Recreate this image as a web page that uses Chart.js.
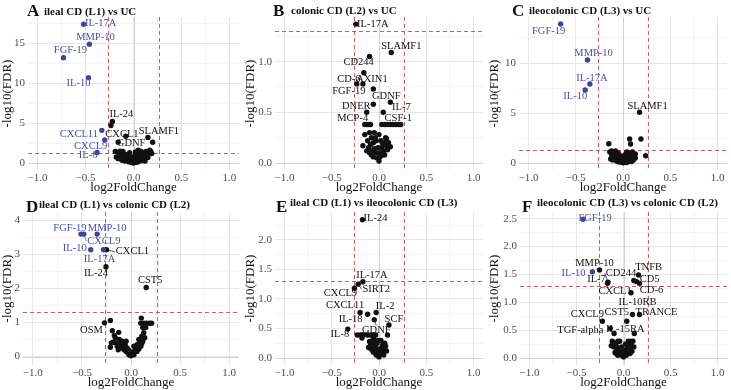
<!DOCTYPE html>
<html>
<head>
<meta charset="utf-8">
<script src="https://cdn.jsdelivr.net/npm/chart.js@4.4.0/dist/chart.umd.min.js"></script>
<style>
  body { margin: 0; background: #fff; width: 731px; height: 390px; position: relative; overflow: hidden;
         font-family: "Liberation Serif", "DejaVu Serif", serif; color: #111; }
  .panel { position: absolute; height: 195px; }
  .tag { position: absolute; font-weight: bold; font-size: 17px; line-height: 17px; }
  .ttl { position: absolute; font-weight: bold; font-size: 11px; line-height: 11px; white-space: nowrap; }
</style>
</head>
<body>
<div class="panel" style="left:0;top:0;width:243px"><canvas id="chartA"></canvas></div>
<div class="panel" style="left:243px;top:0;width:244px"><canvas id="chartB"></canvas></div>
<div class="panel" style="left:487px;top:0;width:244px"><canvas id="chartC"></canvas></div>
<div class="panel" style="left:0;top:195px;width:243px"><canvas id="chartD"></canvas></div>
<div class="panel" style="left:243px;top:195px;width:244px"><canvas id="chartE"></canvas></div>
<div class="panel" style="left:487px;top:195px;width:244px"><canvas id="chartF"></canvas></div>

<div class="tag" style="left:27px;top:2px">A</div><div class="ttl" style="left:44px;top:6px">ileal CD (L1) vs UC</div>
<div class="tag" style="left:273px;top:2px">B</div><div class="ttl" style="left:291px;top:5px">colonic CD (L2) vs UC</div>
<div class="tag" style="left:512px;top:2px">C</div><div class="ttl" style="left:529px;top:5px">ileocolonic CD (L3) vs UC</div>
<div class="tag" style="left:26px;top:198px">D</div><div class="ttl" style="left:39px;top:199px">ileal CD (L1) vs colonic CD (L2)</div>
<div class="tag" style="left:276px;top:198px">E</div><div class="ttl" style="left:290px;top:197px">ileal CD (L1) vs ileocolonic CD (L3)</div>
<div class="tag" style="left:522px;top:198px">F</div><div class="ttl" style="left:537px;top:197px">ileocolonic CD (L3) vs colonic CD (L2)</div>

<script>
// thresholds: |log2FC| > log2(1.2), FDR < 0.05
const fcCut = 0.263;
const fdrCut = 1.301;

const xTicks = [-1, -0.5, 0, 0.5, 1];
const xTickLabels = ['−1.0', '−0.5', '0.0', '0.5', '1.0'];
const xMinor = [-0.75, -0.25, 0.25, 0.75];

// A: ileal CD (L1) vs UC
const aGenes = ['IL-17A', 'MMP-10', 'FGF-19', 'IL-10', 'IL-24', 'CXCL1', 'CXCL11', 'CXCL9', 'IL-8', 'SLAMF1', 'GDNF'];
const aFC  = [-0.52, -0.46, -0.73, -0.47, -0.22, -0.235, -0.33, -0.30, -0.38, 0.15, -0.16];
const aFDR = [17.4, 14.9, 13.2, 10.7, 5.2, 4.7, 4.1, 2.9, 1.33, 3.2, 2.6];
const aOther = [[-0.08,3.35],[0.20,2.6],[-0.19,1.46],[-0.18,0.75],[-0.15,1.2],[-0.13,0.9],[-0.11,1.46],[-0.1,0.6],
  [-0.09,1.1],[-0.08,0.45],[-0.07,0.8],[-0.06,0.3],[-0.05,0.55],[-0.04,1.3],[-0.04,0.2],[-0.03,0.4],[-0.02,0.1],
  [-0.02,0.25],[-0.01,0.05],[0,0.02],[0,0.12],[0.01,0.06],[0.02,0.18],[0.03,0.1],[0.03,0.35],[0.04,0.25],[0.05,1.6],
  [0.05,0.5],[0.06,0.3],[0.07,0.84],[0.07,0.6],[0.08,1.46],[0.08,0.4],[0.09,0.7],[0.1,1.0],[0.1,0.5],[0.11,1.2],
  [0.12,0.8],[0.13,1.46],[0.14,0.9],[0.15,1.17],[0.16,1.3],[0.17,1.6],[0.18,1.46],[0.19,1.2],[-0.12,0.35],
  [-0.16,0.55],[0.12,0.25],[-0.14,1.5],[0.02,1.4],[-0.02,0.7],[0.01,0.9],[0.06,1.1],[-0.06,1.0],[0.04,0.75],
  [-0.09,0.25],[0.09,0.3],[-0.12,0.7],[0.11,0.6],[0.15,0.7],[-0.05,0.15],[0.05,0.15]];
const aYTicks = [0, 5, 10, 15];
const aYLabels = ['0', '5', '10', '15'];
const aYMinor = [2.5, 7.5, 12.5, 17.5];

// B: colonic CD (L2) vs UC
const bGenes = ['IL-17A', 'SLAMF1', 'CD244', 'CD-6', 'AXIN1', 'FGF-19', 'GDNF', 'DNER', 'IL-7', 'MCP-4', 'CSF-1'];
const bFC  = [-0.245, 0.13, -0.10, -0.16, -0.17, -0.235, -0.06, -0.06, 0.12, -0.13, 0.045];
const bFDR = [1.37, 1.09, 1.05, 0.89, 0.78, 0.78, 0.73, 0.58, 0.60, 0.50, 0.50];
const bOther = [[-0.15,0.38],[-0.13,0.38],[-0.11,0.38],[-0.09,0.38],[0.03,0.38],[0.06,0.38],[0.09,0.38],[0.12,0.38],
  [0.15,0.38],[0.18,0.38],[0.21,0.38],[0.23,0.38],[-0.15,0.28],[0.07,0.25],[-0.17,0.17],[0.12,0.16],[-0.1,0.3],
  [-0.08,0.25],[-0.06,0.2],[-0.05,0.14],[-0.03,0.1],[-0.02,0.05],[0,0.02],[0.01,0.06],[0.02,0.1],[0.03,0.15],
  [0.04,0.19],[0.05,0.12],[0.06,0.2],[0.08,0.17],[0.09,0.13],[-0.09,0.18],[-0.07,0.12],[-0.12,0.22],[-0.11,0.15],
  [-0.04,0.25],[0.1,0.2],[-0.13,0.12],[-0.08,0.08],[-0.05,0.3],[0,0.1],[0.02,0.22],[0.04,0.08],[-0.01,0.15],
  [-0.06,0.06],[0.06,0.08],[-0.1,0.1],[0.08,0.24],[0,0.28],[-0.03,0.22]];
const bYTicks = [0, 0.5, 1];
const bYLabels = ['0.0', '0.5', '1.0'];
const bYMinor = [0.25, 0.75, 1.25];

// C: ileocolonic CD (L3) vs UC
const cGenes = ['FGF-19', 'MMP-10', 'IL-17A', 'IL-10', 'SLAMF1'];
const cFC  = [-0.66, -0.375, -0.35, -0.40, 0.175];
const cFDR = [13.9, 10.3, 7.9, 7.3, 5.07];
const cOther = [[-0.15,1.93],[0.07,2.4],[0.19,2.4],[0.08,1.9],[0.24,0.73],[-0.14,1.1],[-0.12,0.8],[-0.1,0.5],
  [-0.08,1.2],[-0.07,0.9],[-0.05,0.3],[-0.04,0.6],[-0.03,0.2],[-0.02,0.4],[-0.01,0.1],[0,0.03],[0.01,0.15],
  [0.02,0.3],[0.03,0.5],[0.04,0.2],[0.05,0.7],[0.06,0.4],[0.07,1.0],[0.08,0.6],[0.09,0.8],[0.1,0.5],[0.11,0.9],
  [0.12,0.7],[-0.13,0.4],[-0.11,0.3],[0.13,0.5],[-0.06,0.15],[0.05,0.1],[-0.09,0.7],[0,0.5],[0.02,0.8],
  [-0.05,1.0],[0.04,1.1],[0.1,1.1],[-0.12,1.2],[0.13,0.9],[-0.02,0.7],[0.06,0.2],[-0.08,0.3],[0.08,0.3],
  [-0.04,0.1],[0.03,0.05],[0.11,0.3],[0.09,0.15]];
const cYTicks = [0, 5, 10];
const cYLabels = ['0', '5', '10'];
const cYMinor = [2.5, 7.5, 12.5];

// D: ileal CD (L1) vs colonic CD (L2)
const dGenes = ['FGF-19', 'CXCL9', 'MMP-10', 'IL-10', 'IL-17A', 'CXCL1', 'IL-24', 'CST5', 'OSM'];
const dFC  = [-0.51, -0.48, -0.345, -0.41, -0.28, -0.25, -0.255, 0.155, -0.27];
const dFDR = [3.6, 3.6, 3.6, 3.14, 3.14, 3.14, 2.64, 2.03, 0.99];
const dOther = [[-0.21,1.06],[-0.19,0.76],[-0.125,0.71],[-0.18,0.42],[-0.21,0.27],[0.105,1.13],[0.1,0.98],
  [0.13,0.98],[0.16,0.98],[0.19,0.98],[0.21,0.98],[0.12,0.85],[0.13,0.7],[0.14,0.55],[0.12,0.45],[0.11,0.38],
  [0.1,0.3],[-0.16,0.55],[-0.15,0.4],[-0.14,0.3],[-0.12,0.5],[-0.11,0.35],[-0.1,0.25],[-0.09,0.45],[-0.08,0.3],
  [-0.07,0.2],[-0.06,0.35],[-0.05,0.15],[-0.04,0.25],[-0.03,0.1],[-0.02,0.05],[0,0.02],[0.01,0.08],[0.02,0.12],
  [0.03,0.05],[0.04,0.18],[0.05,0.25],[0.06,0.15],[0.07,0.3],[0.08,0.22],[0.09,0.4],[-0.17,0.62],[0.08,0.5],
  [-0.13,0.2],[-0.02,0.18],[0,0.1],[0.03,0.3],[0.06,0.35],[-0.05,0.45],[0.11,0.6],[-0.2,0.4],[0.15,0.85]];
const dYTicks = [0, 1, 2, 3, 4];
const dYLabels = ['0', '1', '2', '3', '4'];
const dYMinor = [0.5, 1.5, 2.5, 3.5];

// E: ileal CD (L1) vs ileocolonic CD (L3)
const eGenes = ['IL-24', 'IL-17A', 'SIRT2', 'CXCL9', 'CXCL11', 'IL-2', 'IL-18', 'GDNF', 'SCF', 'IL-8'];
const eFC  = [-0.175, -0.17, -0.22, -0.26, -0.20, -0.03, -0.12, -0.05, 0.105, -0.33];
const eFDR = [2.34, 1.29, 1.25, 1.18, 0.77, 0.77, 0.74, 0.65, 0.56, 0.49];
const eOther = [[0.09,0.39],[-0.23,0.39],[-0.2,0.39],[-0.18,0.39],[-0.16,0.39],[-0.12,0.39],[-0.09,0.39],
  [-0.06,0.39],[-0.035,0.39],[-0.18,0.34],[-0.06,0.33],[-0.05,0.28],[-0.04,0.22],[-0.03,0.16],[-0.02,0.1],
  [-0.01,0.05],[0,0.02],[0.01,0.07],[0.02,0.12],[0.03,0.18],[0.04,0.22],[0.05,0.15],[0.06,0.25],[0.07,0.2],
  [-0.07,0.2],[-0.08,0.15],[-0.1,0.28],[-0.09,0.24],[0.03,0.08],[-0.04,0.12],[-0.02,0.25],[0,0.15],[0.02,0.3],
  [-0.06,0.1],[0.05,0.05],[-0.11,0.18],[0.08,0.12],[-0.01,0.3],[0.04,0.1],[-0.03,0.05]];
const eYTicks = [0, 0.5, 1, 1.5, 2];
const eYLabels = ['0.0', '0.5', '1.0', '1.5', '2.0'];
const eYMinor = [0.25, 0.75, 1.25, 1.75, 2.25];

// F: ileocolonic CD (L3) vs colonic CD (L2)
const fGenes = ['FGF-19', 'IL-10', 'MMP-10', 'IL-7', 'CD244', 'TNFB', 'CD5', 'CD-6', 'CXCL1', 'IL-10RB',
  'CST5', 'TRANCE', 'CXCL9', 'TGF-alpha', 'IL-15RA'];
const fFC  = [-0.43, -0.33, -0.255, -0.17, -0.165, 0.16, 0.14, 0.17, 0.08, 0.095, 0.035, 0.17, -0.225, -0.14, 0.115];
const fFDR = [2.49, 1.55, 1.58, 1.34, 1.36, 1.49, 1.37, 1.34, 1.17, 0.78, 0.66, 0.78, 0.66, 0.53, 0.44];
const fOther = [[0.11,1.39],[-0.1,0.44],[-0.12,0.3],[-0.11,0.28],[-0.08,0.25],[-0.1,0.2],[-0.06,0.3],[-0.05,0.18],
  [-0.04,0.12],[-0.03,0.08],[-0.02,0.05],[0,0.02],[0.01,0.06],[0.02,0.1],[0.03,0.15],[0.04,0.2],[0.05,0.12],
  [0.06,0.25],[0.07,0.18],[0.08,0.22],[0.09,0.12],[0.1,0.3],[-0.07,0.15],[-0.09,0.1],[0.05,0.3],[0.03,0.05],
  [-0.02,0.2],[0,0.12],[-0.06,0.05],[0.07,0.08],[-0.13,0.22],[0.02,0.25],[-0.04,0.3],[0.08,0.3],[-0.08,0.08],
  [0.11,0.2]];
const fYTicks = [0, 0.5, 1, 1.5, 2, 2.5];
const fYLabels = ['0.0', '0.5', '1.0', '1.5', '2.0', '2.5'];
const fYMinor = [0.25, 0.75, 1.25, 1.75, 2.25];

// label placement (pixel offsets from the point, ggrepel-like); third item = draw segment
const nudgeA = {'IL-17A':[17,-1], 'MMP-10':[6,-7], 'FGF-19':[7,-7], 'IL-10':[-10,6], 'IL-24':[9,-7],
  'CXCL1':[11,9], 'CXCL11':[-23,4], 'CXCL9':[-14,6], 'IL-8':[-9,3], 'SLAMF1':[11,-6], 'GDNF':[13,1]};
const nudgeB = {'IL-17A':[17,0], 'SLAMF1':[10,-6], 'CD244':[-11,6], 'CD-6':[-15,6], 'AXIN1':[9,-5],
  'FGF-19':[-8,7], 'GDNF':[13,7], 'DNER':[-17,2], 'IL-7':[11,5], 'MCP-4':[-14,6], 'CSF-1':[15,6]};
const nudgeC = {'FGF-19':[-12,7], 'MMP-10':[6,-7], 'IL-17A':[2,-6], 'IL-10':[-10,6], 'SLAMF1':[8,-6]};
const nudgeD = {'FGF-19':[-11,-6], 'CXCL9':[20,7,true], 'MMP-10':[10,-6], 'IL-10':[-16,-1], 'IL-17A':[-4,10],
  'CXCL1':[26,2,true], 'IL-24':[-10,7], 'CST5':[4,-7], 'OSM':[-13,7]};
const nudgeE = {'IL-24':[13,-1], 'IL-17A':[9,-7], 'SIRT2':[18,5,true], 'CXCL9':[-14,5], 'CXCL11':[-15,-7],
  'IL-2':[9,-6], 'IL-18':[-17,5], 'GDNF':[2,11,true], 'SCF':[5,-6], 'IL-8':[-8,5]};
const nudgeF = {'FGF-19':[12,-1], 'IL-10':[-19,2], 'MMP-10':[-5,-7], 'IL-7':[-11,-4], 'CD244':[13,-9,true],
  'TNFB':[10,-8], 'CD5':[13,-2], 'CD-6':[12,7], 'CXCL1':[-16,-2], 'IL-10RB':[5,-12], 'CST5':[-10,-9],
  'TRANCE':[17,-2], 'CXCL9':[-15,-7], 'TGF-alpha':[-30,2], 'IL-15RA':[-9,-4]};

const serif = '"Liberation Serif", "DejaVu Serif", serif';
const blue = '#3e4598';
const labelBlue = '#4b509b';
const black = '#111111';

function isSig(fc, fdr) {
  return fdr > fdrCut && Math.abs(fc) > fcCut;
}

function tickText(ticks, labels, v) {
  const i = ticks.indexOf(v);
  return i < 0 ? '' : labels[i];
}

const refLines = {
  id: 'refLines',
  beforeDatasetsDraw(chart) {
    const {ctx, chartArea: a, scales: {x, y}} = chart;
    const seg = (x1, y1, x2, y2) => { ctx.beginPath(); ctx.moveTo(x1, y1); ctx.lineTo(x2, y2); ctx.stroke(); };
    ctx.save();
    ctx.lineWidth = 1;
    ctx.strokeStyle = '#d2d2d2';
    const x0 = Math.round(x.getPixelForValue(0)) + 0.5;
    const y0 = Math.round(y.getPixelForValue(0)) + 0.5;
    seg(x0, a.top, x0, a.bottom);
    seg(a.left, y0, a.right, y0);
    ctx.strokeStyle = '#c0606b';
    ctx.setLineDash([4, 3]);
    [-fcCut, fcCut].forEach(v => {
      const p = Math.round(x.getPixelForValue(v)) + 0.5;
      seg(p, a.top, p, a.bottom);
    });
    const py = Math.round(y.getPixelForValue(fdrCut)) + 0.5;
    seg(a.left, py, a.right, py);
    ctx.restore();
  }
};

const geneLabels = {
  id: 'geneLabels',
  afterDatasetsDraw(chart, args, opts) {
    const {ctx, scales: {x, y}} = chart;
    ctx.save();
    ctx.font = '10.5px ' + serif;
    ctx.textAlign = 'center';
    ctx.textBaseline = 'middle';
    ctx.lineWidth = 0.7;
    opts.genes.forEach((g, i) => {
      const px = x.getPixelForValue(opts.fc[i]);
      const py = y.getPixelForValue(opts.fdr[i]);
      const nd = opts.nudge[g] || [0, -8];
      const lx = px + nd[0], ly = py + nd[1];
      const col = isSig(opts.fc[i], opts.fdr[i]) ? labelBlue : black;
      ctx.fillStyle = col;
      ctx.strokeStyle = col;
      if (nd[2]) {
        const w = ctx.measureText(g).width;
        let ex = lx, ey = ly;
        if (Math.abs(nd[1]) > Math.abs(nd[0])) ey = ly + (nd[1] > 0 ? -5 : 5);
        else ex = lx + (nd[0] > 0 ? -w / 2 - 1 : w / 2 + 1);
        ctx.beginPath(); ctx.moveTo(px, py); ctx.lineTo(ex, ey); ctx.stroke();
      }
      ctx.fillText(g, lx, ly);
    });
    ctx.restore();
  }
};

function makePanel(id, cfg) {
  const pts = cfg.genes.map((g, i) => [cfg.fc[i], cfg.fdr[i]]).concat(cfg.other);
  const sig = pts.filter(p => isSig(p[0], p[1])).map(p => ({x: p[0], y: p[1]}));
  const ns = pts.filter(p => !isSig(p[0], p[1])).map(p => ({x: p[0], y: p[1]}));
  const xGrid = xTicks.concat(xMinor).sort((a, b) => a - b);
  const yGrid = cfg.yTicks.concat(cfg.yMinor).sort((a, b) => a - b);
  const gridColor = minor => c => minor.includes(c.tick.value) ? '#f3f3f3' : '#e6e6e6';

  new Chart(document.getElementById(id), {
    type: 'scatter',
    plugins: [refLines, geneLabels],
    data: {
      datasets: [
        {data: sig, backgroundColor: blue, borderWidth: 0, pointRadius: 2.7},
        {data: ns, backgroundColor: black, borderWidth: 0, pointRadius: 2.7}
      ]
    },
    options: {
      responsive: true,
      maintainAspectRatio: false,
      animation: false,
      layout: {padding: {top: 17, right: cfg.padR, left: 0, bottom: 0}},
      plugins: {
        legend: {display: false},
        tooltip: {enabled: false},
        geneLabels: {genes: cfg.genes, fc: cfg.fc, fdr: cfg.fdr, nudge: cfg.nudge}
      },
      scales: {
        x: {
          type: 'linear', min: -1.1, max: 1.1,
          afterBuildTicks: s => { s.ticks = xGrid.map(v => ({value: v})); },
          afterFit: s => { s.height = 25; },
          border: {display: false},
          grid: {drawTicks: false, color: gridColor(xMinor)},
          ticks: {autoSkip: false, maxRotation: 0, padding: 2, color: '#4d4d4d',
                  font: {family: serif, size: 11},
                  callback: v => tickText(xTicks, xTickLabels, v)},
          title: {display: true, text: 'log2FoldChange', color: black,
                  font: {family: serif, size: 13}, padding: {top: 0, bottom: 0}}
        },
        y: {
          type: 'linear', min: cfg.yMin, max: cfg.yMax,
          afterBuildTicks: s => { s.ticks = yGrid.map(v => ({value: v})); },
          afterFit: s => { s.width = cfg.axisW; },
          border: {display: false},
          grid: {drawTicks: false, color: gridColor(cfg.yMinor)},
          ticks: {autoSkip: false, padding: 3, color: '#4d4d4d',
                  font: {family: serif, size: 11},
                  callback: v => tickText(cfg.yTicks, cfg.yLabels, v)},
          title: {display: true, text: '-log10(FDR)', color: black,
                  font: {family: serif, size: 13}, padding: {top: 0, bottom: 0}}
        }
      }
    }
  });
}

makePanel('chartA', {genes: aGenes, fc: aFC, fdr: aFDR, other: aOther, nudge: nudgeA,
  yTicks: aYTicks, yLabels: aYLabels, yMinor: aYMinor, yMin: -0.87, yMax: 18.3, axisW: 28, padR: 4});
makePanel('chartB', {genes: bGenes, fc: bFC, fdr: bFDR, other: bOther, nudge: nudgeB,
  yTicks: bYTicks, yLabels: bYLabels, yMinor: bYMinor, yMin: -0.069, yMax: 1.44, axisW: 32, padR: 3});
makePanel('chartC', {genes: cGenes, fc: cFC, fdr: cFDR, other: cOther, nudge: nudgeC,
  yTicks: cYTicks, yLabels: cYLabels, yMinor: cYMinor, yMin: -0.7, yMax: 14.6, axisW: 32, padR: 3});
makePanel('chartD', {genes: dGenes, fc: dFC, fdr: dFDR, other: dOther, nudge: nudgeD,
  yTicks: dYTicks, yLabels: dYLabels, yMinor: dYMinor, yMin: -0.25, yMax: 4.25, axisW: 23, padR: 4});
makePanel('chartE', {genes: eGenes, fc: eFC, fdr: eFDR, other: eOther, nudge: nudgeE,
  yTicks: eYTicks, yLabels: eYLabels, yMinor: eYMinor, yMin: -0.117, yMax: 2.47, axisW: 32, padR: 3});
makePanel('chartF', {genes: fGenes, fc: fFC, fdr: fFDR, other: fOther, nudge: nudgeF,
  yTicks: fYTicks, yLabels: fYLabels, yMinor: fYMinor, yMin: -0.125, yMax: 2.62, axisW: 33, padR: 1});
</script>
</body>
</html>
